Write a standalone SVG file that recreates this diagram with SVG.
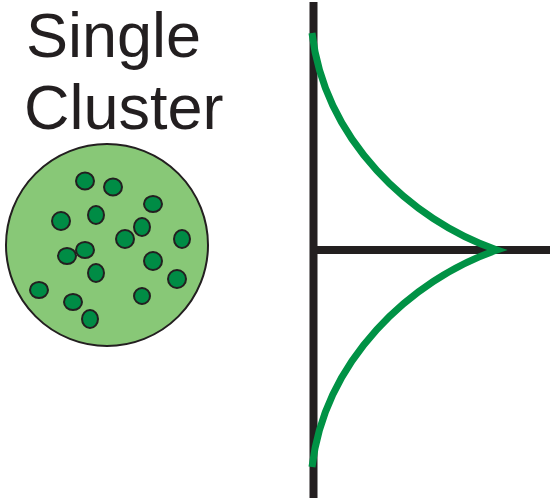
<svg xmlns="http://www.w3.org/2000/svg" width="556" height="498" viewBox="0 0 556 498">
<style>
.t{font-family:"Liberation Sans",Arial,sans-serif;font-size:63px;fill:#231f20}
.dot{fill:#008c45;stroke:#231f20;stroke-width:2}
.axis{stroke:#231f20;stroke-width:8;fill:none}
.curve{stroke:#009245;stroke-width:7;fill:none;stroke-linejoin:miter;stroke-miterlimit:10}
</style>
<rect width="556" height="498" fill="#fff"/>
<g id="title">
<text class="t" x="26" y="57">Single</text>
<text class="t" x="24" y="129">Cluster</text>
</g>
<g id="cluster">
<circle cx="107" cy="245" r="101" fill="#88c877" stroke="#231f20" stroke-width="2"/>
<ellipse class="dot" cx="85" cy="181" rx="9" ry="8.5"/>
<ellipse class="dot" cx="113" cy="187" rx="9" ry="8.5"/>
<ellipse class="dot" cx="153" cy="204" rx="9" ry="8"/>
<ellipse class="dot" cx="61" cy="221" rx="9" ry="9"/>
<ellipse class="dot" cx="96" cy="215" rx="8" ry="9"/>
<ellipse class="dot" cx="142" cy="227" rx="8" ry="9"/>
<ellipse class="dot" cx="125" cy="239" rx="9" ry="9"/>
<ellipse class="dot" cx="182" cy="239" rx="8" ry="9"/>
<ellipse class="dot" cx="85" cy="250" rx="9" ry="8"/>
<ellipse class="dot" cx="67" cy="256" rx="9" ry="8"/>
<ellipse class="dot" cx="96" cy="273" rx="8" ry="9"/>
<ellipse class="dot" cx="153" cy="261" rx="9" ry="9"/>
<ellipse class="dot" cx="177" cy="279" rx="9" ry="9"/>
<ellipse class="dot" cx="39" cy="290" rx="9" ry="8"/>
<ellipse class="dot" cx="73" cy="302" rx="9" ry="8"/>
<ellipse class="dot" cx="142" cy="296" rx="8" ry="8"/>
<ellipse class="dot" cx="90" cy="319" rx="8" ry="9"/>
</g>
<g id="plot">
<line class="axis" x1="313.5" y1="2" x2="313.5" y2="498"/>
<line class="axis" x1="310" y1="250" x2="550" y2="250"/>
<path class="curve" d="M312,33 C325,140 410,220 497,250 C410,280 325,360 312,467"/>
</g>
</svg>
